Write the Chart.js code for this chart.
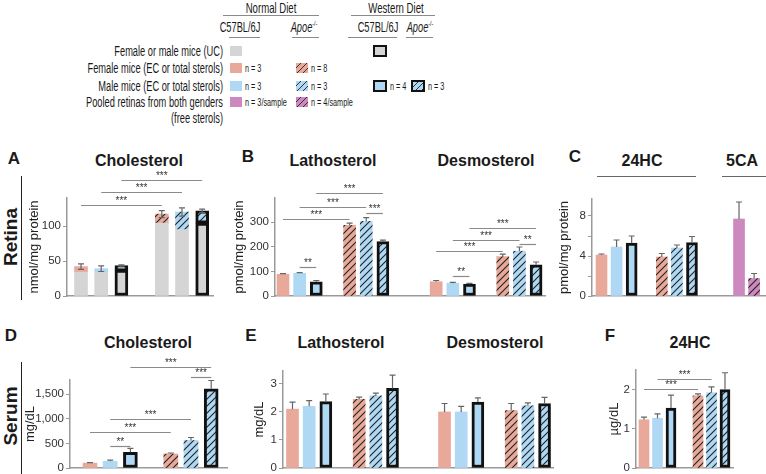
<!DOCTYPE html>
<html lang="en">
<head>
<meta charset="UTF-8">
<title>Retina and serum sterols</title>
<script src="https://cdn.jsdelivr.net/npm/chart.js"></script>
<style>
  :root { --sx: 0.7; }
  body { margin: 0; background: #fff; font-family: "Liberation Sans", Arial, sans-serif; color: #1a1a1a; }
  #fig { position: relative; width: 766px; height: 474px; overflow: hidden; }
  .t { position: absolute; white-space: nowrap; line-height: 1; }
  .c { transform: translate(-50%, -50%); }
  /* the legend uses a condensed face: squeeze the regular one */
  .nc { transform-origin: 50% 50%; transform: translate(-50%, -50%) scaleX(var(--sx)); }
  .nr { transform-origin: 100% 50%; transform: translate(-100%, -50%) scaleX(var(--sx)); }
  .nl { transform-origin: 0 50%; transform: translate(0, -50%) scaleX(var(--sx)); }
  .leg { font-size: 14px; }
  .hd { font-size: 14.5px; }
  .n { font-size: 11px; }
  .hl { position: absolute; height: 0; border-top: 1.5px solid #8a8a8a; }
  .vl { position: absolute; width: 0; border-left: 1.5px solid #222; }
  .sw { position: absolute; width: 12px; height: 10px; box-sizing: border-box; }
  .box { width: 14px; height: 12px; border: 2.5px solid #111; }
  .title { font-weight: bold; font-size: 16px; }
  .letter { font-weight: bold; font-size: 17px; }
  .side { font-weight: bold; font-size: 19px; transform: translate(-50%, -50%) rotate(-90deg); }
  canvas { position: absolute; }
  sup { font-size: 8px; }
</style>
</head>
<body>
<div id="fig">
  <!-- legend -->
  <div class="t nc hd" style="left:271px;top:8px">Normal Diet</div>
  <div class="hl" style="left:223px;top:15px;width:96px"></div>
  <div class="t nc hd" style="left:396px;top:8px">Western Diet</div>
  <div class="hl" style="left:351px;top:15px;width:84px"></div>

  <div class="t nc leg" style="left:240px;top:27px">C57BL/6J</div>
  <div class="hl" style="left:229px;top:37px;width:31px"></div>
  <div class="t nc leg" style="left:304px;top:27px"><i>Apoe</i><sup>-/-</sup></div>
  <div class="hl" style="left:292px;top:37px;width:27px"></div>
  <div class="t nc leg" style="left:378px;top:27px">C57BL/6J</div>
  <div class="hl" style="left:348px;top:37px;width:49px"></div>
  <div class="t nc leg" style="left:420px;top:27px"><i>Apoe</i><sup>-/-</sup></div>
  <div class="hl" style="left:406px;top:37px;width:27px"></div>

  <div class="t nr leg" style="left:223px;top:51px">Female or male mice (UC)</div>
  <div class="t nr leg" style="left:223px;top:68px">Female mice (EC or total sterols)</div>
  <div class="t nr leg" style="left:223px;top:86px">Male mice (EC or total sterols)</div>
  <div class="t nr leg" style="left:223px;top:102px">Pooled retinas from both genders</div>
  <div class="t nr leg" style="left:223px;top:118px">(free sterols)</div>

  <div class="sw" style="left:230px;top:46px;background:#d5d5d5"></div>
  <div class="sw box" style="left:373px;top:45px;background:#d5d5d5"></div>

  <div class="sw" style="left:230px;top:63px;background:#e8a99b"></div>
  <div class="t nl n" style="left:245px;top:68px">n = 3</div>
  <div class="sw" style="left:296px;top:63px;background:repeating-linear-gradient(135deg,#e8a99b 0 3px,#333 3px 4.2px)"></div>
  <div class="t nl n" style="left:311px;top:68px">n = 8</div>

  <div class="sw" style="left:230px;top:81px;background:#aed8f4"></div>
  <div class="t nl n" style="left:245px;top:86px">n = 3</div>
  <div class="sw" style="left:296px;top:81px;background:repeating-linear-gradient(135deg,#aed8f4 0 3px,#333 3px 4.2px)"></div>
  <div class="t nl n" style="left:311px;top:86px">n = 3</div>
  <div class="sw box" style="left:373px;top:80px;background:#aed8f4"></div>
  <div class="t nl n" style="left:390px;top:86px">n = 4</div>
  <div class="sw box" style="left:411px;top:80px;background:repeating-linear-gradient(135deg,#aed8f4 0 3px,#333 3px 4.2px)"></div>
  <div class="t nl n" style="left:428px;top:86px">n = 3</div>

  <div class="sw" style="left:230px;top:97px;background:#cd89bf"></div>
  <div class="t nl n" style="left:245px;top:102px">n = 3/sample</div>
  <div class="sw" style="left:296px;top:97px;background:repeating-linear-gradient(135deg,#cd89bf 0 3px,#333 3px 4.2px)"></div>
  <div class="t nl n" style="left:311px;top:102px">n = 4/sample</div>

  <!-- row labels -->
  <div class="t side" style="left:10px;top:237px">Retina</div>
  <div class="vl" style="left:21px;top:176px;height:124px"></div>
  <div class="t side" style="left:10px;top:416px">Serum</div>
  <div class="vl" style="left:21px;top:362px;height:112px"></div>

  <!-- panel letters and titles -->
  <div class="t c letter" style="left:14px;top:158px">A</div>
  <div class="t c letter" style="left:248px;top:156px">B</div>
  <div class="t c letter" style="left:575px;top:156px">C</div>
  <div class="t c letter" style="left:11px;top:335px">D</div>
  <div class="t c letter" style="left:251px;top:335px">E</div>
  <div class="t c letter" style="left:610px;top:335px">F</div>

  <div class="t c title" style="left:139px;top:161px">Cholesterol</div>
  <div class="t c title" style="left:333px;top:161px">Lathosterol</div>
  <div class="t c title" style="left:486px;top:161px">Desmosterol</div>
  <div class="t c title" style="left:642px;top:161px">24HC</div>
  <div class="hl" style="left:597px;top:176px;width:99px;border-color:#666"></div>
  <div class="t c title" style="left:742px;top:161px">5CA</div>
  <div class="hl" style="left:722px;top:176px;width:44px;border-color:#666"></div>

  <div class="t c title" style="left:148px;top:343px">Cholesterol</div>
  <div class="t c title" style="left:341px;top:343px">Lathosterol</div>
  <div class="t c title" style="left:495px;top:343px">Desmosterol</div>
  <div class="t c title" style="left:690px;top:343px">24HC</div>
</div>

<script>
// bar order in every group: ND C57BL/6J female, ND C57BL/6J male, WD C57BL/6J male,
// ND Apoe-/- female, ND Apoe-/- male, WD Apoe-/- male

// A: retina cholesterol, nmol/mg protein (unesterified + esterified)
const retinaCholUC  = [34, 34, 37, 104, 95, 104];
const retinaCholEC  = [8, 5, 6.5, 13, 25, 17.5];
const retinaCholErr = [4, 4, 1, 5, 6, 2.5];

// B: retina lathosterol and desmosterol, pmol/mg protein
const retinaLatho    = [88, 92, 58, 287, 303, 221];
const retinaLathoErr = [3, 3, 5, 9, 15, 6];
const retinaDesmo    = [58, 52, 48, 160, 182, 127];
const retinaDesmoErr = [5, 3, 3, 10, 17, 11];

// C: retina 24HC and 5CA, pmol/mg protein
const retina24HC    = [4.1, 4.9, 5.3, 3.9, 4.8, 5.35];
const retina24HCErr = [0.1, 0.7, 0.7, 0.35, 0.3, 0.6];
const retina5CA     = [7.7, 1.75];
const retina5CAErr  = [1.7, 0.5];

// D: serum cholesterol, mg/dL
const serumChol    = [100, 135, 320, 285, 560, 1610];
const serumCholErr = [10, 25, 80, 20, 60, 170];

// E: serum lathosterol and desmosterol, mg/dL
const serumLatho    = [2.1, 2.2, 2.37, 2.45, 2.57, 2.84];
const serumLathoErr = [0.25, 0.2, 0.27, 0.08, 0.1, 0.47];
const serumDesmo    = [2.0, 2.0, 2.35, 2.05, 2.22, 2.3];
const serumDesmoErr = [0.3, 0.2, 0.15, 0.25, 0.1, 0.22];

// F: serum 24HC, ug/dL
const serum24HC    = [1.23, 1.27, 1.53, 1.84, 1.92, 2.0];
const serum24HCErr = [0.07, 0.11, 0.33, 0.05, 0.15, 0.43];

// y tick values
const ticksA = [0, 50, 100];
const ticksB = [0, 100, 200, 300];
const ticksC = [0, 2, 4, 6, 8];
const ticksD = [0, 500, 1000, 1500];
const ticksE = [0, 1, 2, 3];
const ticksF = [0, 1, 2];

// significance: [bar, bar, label, level in axis units]
const sigA = [[0, 3, '***', 130], [1, 4, '***', 149], [2, 5, '***', 166]];
const sigB = [[1, 2, '**', 118], [0, 3, '***', 312], [4, 5, '***', 339], [1, 4, '***', 362], [2, 5, '***', 419],
              [7, 8, '**', 80], [6, 9, '***', 183], [10, 11, '**', 211], [7, 10, '***', 228], [8, 11, '***', 276]];
const sigD = [[1, 2, '**', 451], [0, 3, '***', 729], [1, 4, '***', 992], [4, 5, '***', 1842], [2, 5, '***', 2057]];
const sigF = [[0, 3, '***', 2.02], [1, 4, '***', 2.27]];

const FONT = '"Liberation Sans", Arial, sans-serif';
const PINK = '#e8a99b', BLUE = '#aed8f4', GRAY = '#d5d5d5', MAGENTA = '#cd89bf', INK = '#111';

// legend text is condensed in the original: fit the longest row label to its width there
(function () {
    const probe = document.createElement('span');
    probe.className = 'leg';
    probe.style.cssText = 'position:absolute;visibility:hidden;white-space:nowrap';
    probe.textContent = 'Pooled retinas from both genders';
    document.getElementById('fig').appendChild(probe);
    const w = probe.getBoundingClientRect().width;
    probe.remove();
    if (w > 0) document.documentElement.style.setProperty('--sx', (137 / w).toFixed(3));
})();

function hatch(color) {
    const s = 7;
    const c = document.createElement('canvas');
    c.width = s; c.height = s;
    const g = c.getContext('2d');
    g.fillStyle = color;
    g.fillRect(0, 0, s, s);
    g.strokeStyle = '#222';
    g.lineWidth = 1.1;
    g.beginPath();
    g.moveTo(0, s); g.lineTo(s, 0);
    g.moveTo(-1, 1); g.lineTo(1, -1);
    g.moveTo(s - 1, s + 1); g.lineTo(s + 1, s - 1);
    g.stroke();
    return g.createPattern(c, 'repeat');
}

const fills = { gray: GRAY, pink: PINK, blue: BLUE, mag: MAGENTA,
                pinkH: hatch(PINK), blueH: hatch(BLUE), magH: hatch(MAGENTA) };
const groupFill = ['pink', 'blue', 'blue', 'pinkH', 'blueH', 'blueH'];
const groupBox = [false, false, true, false, false, true];
const groupPos = [0, 1, 2, 4, 5, 6];

// error bars on top of each bar (stack)
const errorBars = {
    id: 'errorBars',
    afterDatasetsDraw(chart, args, opts) {
        if (!opts.err) return;
        const ctx = chart.ctx, y = chart.scales.y;
        const sets = chart.data.datasets;
        const meta = chart.getDatasetMeta(sets.length - 1);
        ctx.save();
        ctx.strokeStyle = '#666';
        ctx.lineWidth = 1.2;
        meta.data.forEach((bar, i) => {
            const total = sets.reduce((s, d) => s + d.data[i].y, 0);
            const top = y.getPixelForValue(total + opts.err[i]);
            const bot = opts.twoSided ? y.getPixelForValue(total - opts.err[i]) : bar.y;
            const cap = 3;
            ctx.beginPath();
            ctx.moveTo(bar.x, bot); ctx.lineTo(bar.x, top);
            ctx.moveTo(bar.x - cap, top); ctx.lineTo(bar.x + cap, top);
            if (opts.twoSided) { ctx.moveTo(bar.x - cap, bot); ctx.lineTo(bar.x + cap, bot); }
            ctx.stroke();
        });
        ctx.restore();
    }
};

// significance lines with stars
const sigBars = {
    id: 'sigBars',
    afterDraw(chart, args, opts) {
        if (!opts.pairs) return;
        const ctx = chart.ctx, x = chart.scales.x, y = chart.scales.y;
        ctx.save();
        ctx.strokeStyle = '#8a8a8a';
        ctx.lineWidth = 1.2;
        ctx.fillStyle = '#333';
        ctx.font = '10px ' + FONT;
        ctx.textAlign = 'center';
        ctx.textBaseline = 'bottom';
        opts.pairs.forEach(([a, b, label, level]) => {
            const xa = x.getPixelForValue(opts.pos[a]);
            const xb = x.getPixelForValue(opts.pos[b]);
            const yy = Math.round(y.getPixelForValue(level)) + 0.5;
            ctx.beginPath();
            ctx.moveTo(xa, yy); ctx.lineTo(xb, yy);
            ctx.stroke();
            ctx.fillText(label, (xa + xb) / 2, yy + 1);
        });
        ctx.restore();
    }
};

function panelConfig(p) {
    const datasets = p.series.map(s => ({
        data: p.pos.map((x, i) => ({ x: x, y: s.values[i] })),
        backgroundColor: s.fills.map(f => fills[f]),
        borderColor: INK,
        borderWidth: p.boxed.map(b => b ? 3 : 0),
        borderSkipped: false,
        barThickness: p.thick,
        stack: 's'
    }));
    return {
        type: 'bar',
        data: { datasets: datasets },
        options: {
            animation: false,
            responsive: false,
            events: [],
            locale: 'en-US',
            layout: { padding: { top: 40, right: 4, bottom: 2, left: 2 } },
            plugins: {
                legend: { display: false },
                tooltip: { enabled: false },
                errorBars: { err: p.err, twoSided: !!p.twoSided },
                sigBars: { pairs: p.sig || [], pos: p.pos }
            },
            scales: {
                x: {
                    type: 'linear',
                    offset: false,
                    min: -(p.first - p.left) / p.slot,
                    max: (p.right - p.first) / p.slot,
                    stacked: true,
                    ticks: { display: false },
                    grid: { display: false },
                    border: { color: '#9a9a9a', width: 1.5 }
                },
                y: {
                    min: 0,
                    max: p.yMax,
                    stacked: true,
                    afterBuildTicks: scale => { scale.ticks = p.yTicks.map(v => ({ value: v })); },
                    afterFit: scale => { scale.width = p.yWidth; },
                    ticks: {
                        color: '#333',
                        padding: 2,
                        font: { family: FONT, size: 11.5 },
                        callback: p.yLabel || (v => v.toLocaleString('en-US'))
                    },
                    grid: { display: true, drawOnChartArea: false, drawTicks: true, tickLength: 4, color: '#9a9a9a' },
                    border: { color: '#9a9a9a', width: 1.5 },
                    title: { display: true, text: p.yTitle, color: '#222', font: { family: FONT, size: 13 }, padding: { top: 0, bottom: 2 } }
                }
            }
        },
        plugins: [errorBars, sigBars]
    };
}

// build a chart whose plot area lands on p.left..p.right, p.top..p.bottom
function place(p) {
    const fig = document.getElementById('fig');
    const make = (w, h) => {
        const cv = document.createElement('canvas');
        cv.width = w; cv.height = h;
        cv.style.width = w + 'px'; cv.style.height = h + 'px';
        fig.appendChild(cv);
        return new Chart(cv, panelConfig(p));
    };
    const aw = p.right - p.left, ah = p.bottom - p.top;
    let w = aw + 100, h = ah + 80;
    let chart = make(w, h);
    const a = chart.chartArea;
    w = Math.round(w - (a.right - a.left) + aw);
    h = Math.round(h - (a.bottom - a.top) + ah);
    const old = chart.canvas;
    chart.destroy();
    old.remove();
    chart = make(w, h);
    chart.canvas.style.left = (p.left - chart.chartArea.left) + 'px';
    chart.canvas.style.top = (p.top - chart.chartArea.top) + 'px';
}

const shifted = (off) => groupPos.map(v => v + off);

// A
place({
    left: 67, right: 213, top: 198, bottom: 296, first: 81, slot: 20.2, thick: 13, yWidth: 40,
    pos: groupPos, boxed: groupBox,
    series: [{ values: retinaCholUC, fills: groupPos.map(() => 'gray') },
             { values: retinaCholEC, fills: groupFill }],
    err: retinaCholErr, twoSided: true,
    yMax: 140, yTicks: ticksA, yTitle: 'nmol/mg protein', sig: sigA
});

// B
place({
    left: 275, right: 545, top: 198, bottom: 296, first: 283, slot: 16.65, thick: 12, yWidth: 43,
    pos: groupPos.concat(shifted(9.2)), boxed: groupBox.concat(groupBox),
    series: [{ values: retinaLatho.concat(retinaDesmo), fills: groupFill.concat(groupFill) }],
    err: retinaLathoErr.concat(retinaDesmoErr),
    yMax: 398, yTicks: ticksB, yTitle: 'pmol/mg protein', sig: sigB
});

// C
place({
    left: 592, right: 765, top: 199, bottom: 296, first: 601.5, slot: 15.08, thick: 11, yWidth: 35,
    pos: groupPos.concat([9.12, 10.12]), boxed: groupBox.concat([false, false]),
    series: [{ values: retina24HC.concat(retina5CA), fills: groupFill.concat(['mag', 'magH']) }],
    err: retina24HCErr.concat(retina5CAErr),
    yMax: 9.7, yTicks: ticksC, yTitle: 'pmol/mg protein',
    yLabel: v => (v % 4 === 0 ? String(v) : '')
});

// D
place({
    left: 70, right: 227, top: 380, bottom: 468, first: 90, slot: 20.2, thick: 14, yWidth: 47,
    pos: groupPos, boxed: groupBox,
    series: [{ values: serumChol, fills: groupFill }],
    err: serumCholErr,
    yMax: 1790, yTicks: ticksD, yTitle: 'mg/dL', sig: sigD
});

// E
place({
    left: 283, right: 553, top: 371, bottom: 468, first: 292.5, slot: 16.67, thick: 12, yWidth: 31,
    pos: groupPos.concat(shifted(9.12)), boxed: groupBox.concat(groupBox),
    series: [{ values: serumLatho.concat(serumDesmo), fills: groupFill.concat(groupFill) }],
    err: serumLathoErr.concat(serumDesmoErr),
    yMax: 3.46, yTicks: ticksE, yTitle: 'mg/dL'
});

// F
place({
    left: 636, right: 733, top: 370, bottom: 468, first: 644, slot: 13.5, thick: 10, yWidth: 29,
    pos: groupPos, boxed: groupBox,
    series: [{ values: serum24HC, fills: groupFill }],
    err: serum24HCErr,
    yMax: 2.5, yTicks: ticksF, yTitle: 'µg/dL', sig: sigF
});
</script>
</body>
</html>
